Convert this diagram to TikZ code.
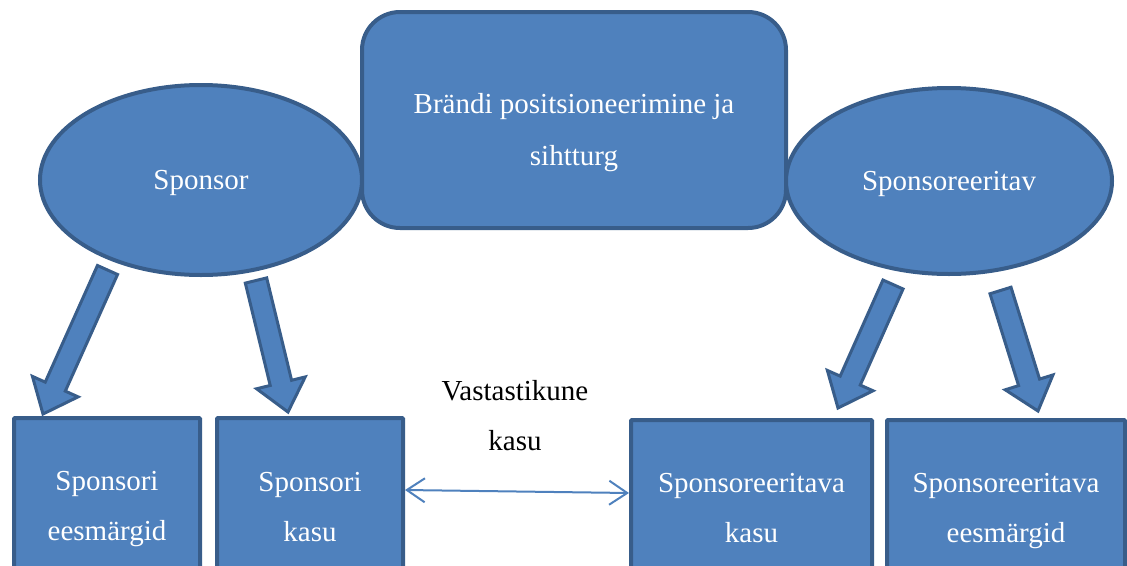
\documentclass[tikz,border=0pt]{standalone}
\usepackage{fontspec}
\setmainfont{Liberation Serif}
\usetikzlibrary{shapes.geometric,calc,arrows.meta}
\definecolor{fillblue}{HTML}{4F81BD}
\definecolor{edgeblue}{HTML}{385D8A}
\newcommand\blockarr[2]{%
  \coordinate (#1n) at ($(#2)!30pt!(#1)$);
  \draw[barrow] ($(#1)!11pt!90:(#2)$) -- ($(#1)!11pt!-90:(#2)$)
    -- ($(#1n)!11pt!90:(#1)$) -- ($(#1n)!25pt!90:(#1)$) -- (#2)
    -- ($(#1n)!25pt!-90:(#1)$) -- ($(#1n)!11pt!-90:(#1)$) -- cycle;
}
\begin{document}
\begin{tikzpicture}[x=1pt,y=-1pt,
  bigtext/.style={font=\fontsize{29}{50}\selectfont, text=white, align=center},
  shapebase/.style={draw=edgeblue, fill=fillblue, line width=4pt, inner sep=0pt, bigtext},
  oval/.style={shapebase, ellipse, text depth=0pt},
  topbox/.style={shapebase, rectangle, rounded corners=38pt},
  lowbox/.style={shapebase, rectangle, rounded corners=1pt},
  barrow/.style={draw=edgeblue, fill=fillblue, line width=3pt, line join=miter},
  link/.style={draw=fillblue, line width=2pt, {Straight Barb[length=18pt,width=24pt,line width=2pt]}-{Straight Barb[length=18pt,width=24pt,line width=2pt]}}
]
\useasboundingbox (0,0) rectangle (1127,565);

\node[oval, minimum width=322pt, minimum height=190pt] (sponsor) at (201,180) {Sponsor};
\node[topbox, minimum width=424pt, minimum height=216pt] (brand) at (574,120) {};
\node[bigtext, font=\fontsize{29}{52}\selectfont] (brandtext) at ([yshift=-13pt]brand.center) {Brändi positsioneerimine ja\\sihtturg};
\node[oval, minimum width=326pt, minimum height=186pt] (sponsee) at (949,181) {Sponsoreeritav};

\node[lowbox, minimum width=186pt, minimum height=182pt] (b1) at (107,509) {Sponsori\\eesmärgid};
\node[lowbox, minimum width=186pt, minimum height=178pt] (b2) at (310,507) {Sponsori\\kasu};
\node[lowbox, minimum width=241pt, minimum height=176pt] (b3) at (751.5,508) {Sponsoreeritava\\kasu};
\node[lowbox, minimum width=238pt, minimum height=182pt] (b4) at (1006,511) {Sponsoreeritava\\eesmärgid};

\coordinate (s1) at (107.5,270); \coordinate (t1) at (43,414);
\coordinate (s2) at (256,280.5); \coordinate (t2) at (288,412);
\coordinate (s3) at (893,284.5); \coordinate (t3) at (838,408);
\coordinate (s4) at (1000.5,290.5); \coordinate (t4) at (1038,411);
\blockarr{s1}{t1}
\blockarr{s2}{t2}
\blockarr{s3}{t3}
\blockarr{s4}{t4}

\draw[link] ([yshift=17pt]b2.east) -- ([yshift=15pt]b3.west);
\node[font=\fontsize{29}{50}\selectfont, align=center] (mutual) at (515,416) {Vastastikune\\kasu};
\end{tikzpicture}
\end{document}
